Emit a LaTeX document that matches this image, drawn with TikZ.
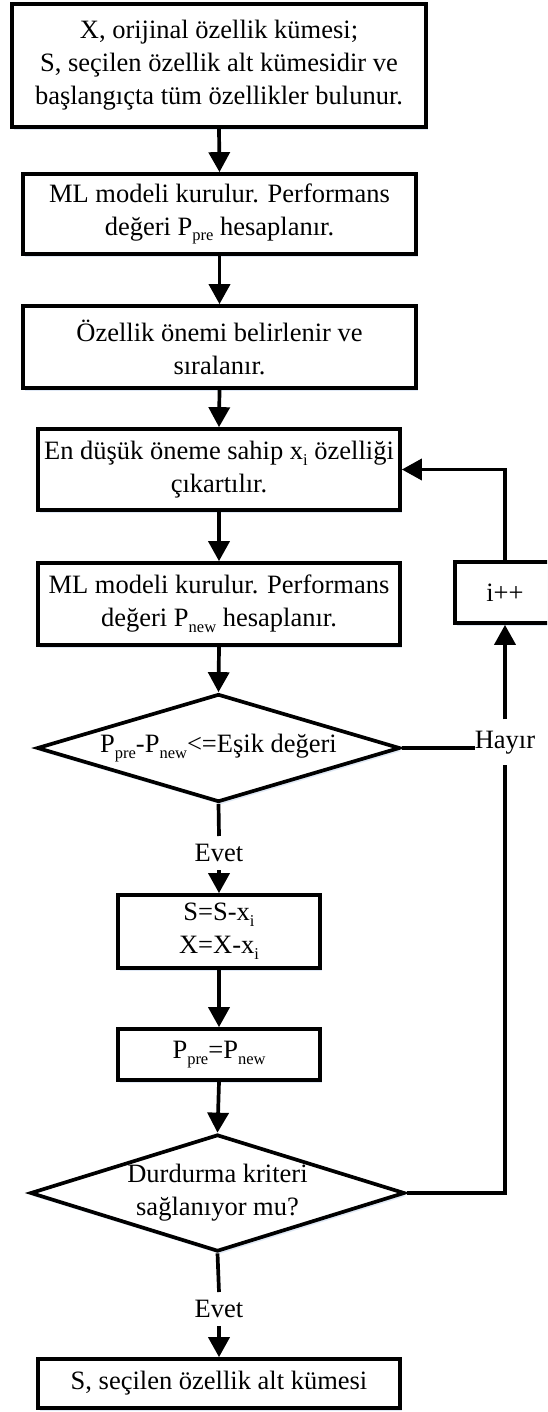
\documentclass[tikz,border=0pt]{standalone}
\usepackage{fontspec}
\setmainfont{Liberation Serif}
\usetikzlibrary{arrows.meta,shapes.geometric,shadows}

% small lowered index text
\newcommand{\idx}[1]{\raisebox{-0.22em}{\fontsize{16.5}{16.5}\selectfont #1}}

\definecolor{shadowblue}{RGB}{196,214,236}

\tikzset{
  base/.style={font=\fontsize{26.5}{33}\selectfont, align=center, inner sep=0pt},
  softshadow/.style={drop shadow={shadow xshift=2pt, shadow yshift=-3pt, fill=shadowblue, opacity=0.55}},
  stepbox/.style={base, draw, line width=3.7pt, fill=white, rectangle, softshadow},
  decision/.style={base, draw, line width=3.7pt, fill=white, diamond, aspect=3.4, softshadow},
  lbl/.style={font=\fontsize{26.5}{33}\selectfont, inner sep=0pt},
  arr/.style={line width=3.7pt, -{Triangle[length=20pt,width=21pt]}},
  ln/.style={line width=3.7pt}
}

\begin{document}
\begin{tikzpicture}[x=1pt,y=1pt]
\useasboundingbox (0,0) rectangle (547,-1412);
\clip (0,0) rectangle (547,-1412);

% main column
\node[stepbox, minimum width=414pt, minimum height=123pt] (b1) at (219,-65.5)
  {X, orijinal özellik kümesi;\\S, seçilen özellik alt kümesidir ve\\başlangıçta tüm özellikler bulunur.};
\node[stepbox, minimum width=393pt, minimum height=80pt] (b2) at (219.5,-214)
  {ML modeli kurulur. Performans\\değeri P\idx{pre} hesaplanır.};
\node[stepbox, minimum width=393pt, minimum height=82pt] (b3) at (219.5,-347)
  {Özellik önemi belirlenir ve\\sıralanır.};
\node[stepbox, minimum width=362pt, minimum height=81pt] (b4) at (219,-469.5)
  {En düşük öneme sahip x\idx{i} özelliği\\çıkartılır.};
\node[stepbox, minimum width=362pt, minimum height=82pt] (b5) at (219,-604)
  {ML modeli kurulur. Performans\\değeri P\idx{new} hesaplanır.};
\node[decision, minimum width=363pt, minimum height=108pt] (d1) at (218.5,-748)
  {P\idx{pre}-P\idx{new}<=Eşik değeri};
\node[stepbox, minimum width=202pt, minimum height=73pt] (b6) at (219,-931.5)
  {S=S-x\idx{i}\\X=X-x\idx{i}};
\node[stepbox, minimum width=202pt, minimum height=51pt] (b7) at (219,-1054.5)
  {P\idx{pre}=P\idx{new}};
\node[decision, minimum width=365pt, minimum height=117pt] (d2) at (217.5,-1193)
  {Durdurma kriteri\\sağlanıyor mu?};
\node[stepbox, minimum width=362pt, minimum height=49pt] (b8) at (219,-1383.5)
  {S, seçilen özellik alt kümesi};

% loop-back branch
\node[stepbox, minimum width=100pt, minimum height=61pt] (inc) at (505,-592.5) {i++};

% branch labels
\node[lbl, anchor=base, inner xsep=0pt, inner ysep=11pt] (no) at (505,-748) {Hayır};
\node[lbl, inner sep=8pt] (yes1) at (219,-853) {Evet};
\node[lbl, inner sep=8pt] (yes2) at (219,-1309) {Evet};

% connectors
\draw[arr] (b1.south) -- (b2.north);
\draw[arr] (b2.south) -- (b3.north);
\draw[arr] (b3.south) -- (b4.north);
\draw[arr] (b4.south) -- (b5.north);
\draw[arr] (b5.south) -- (d1.north);
\draw[ln] (d1.south) -- (yes1.north);
\draw[arr] (yes1.south) -- (b6.north);
\draw[arr] (b6.south) -- (b7.north);
\draw[arr] (b7.south) -- (d2.north);
\draw[ln] (d2.south) -- (yes2.north);
\draw[arr] (yes2.south) -- (b8.north);

\draw[ln] (d1.east) -- (d1.east -| no.west);
\draw[ln] (d2.east) -| (no.south);
\draw[arr] (no.north) -- (inc.south);
\draw[arr] (inc.north) |- (b4.east);
\end{tikzpicture}
\end{document}
